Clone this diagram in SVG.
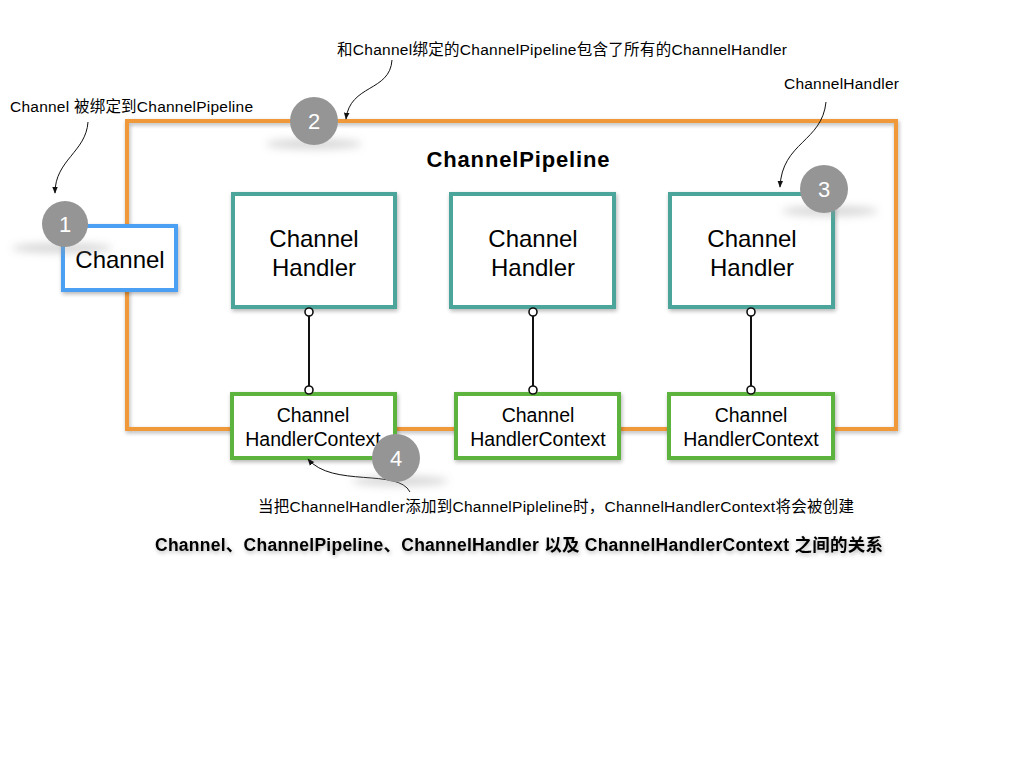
<svg xmlns="http://www.w3.org/2000/svg" width="1024" height="768" viewBox="0 0 1024 768">
<defs>
<style>
text{font-family:"Liberation Sans","Noto Sans CJK SC",sans-serif;fill:#000}
.pipe{fill:none;stroke:#F0993B;stroke-width:4}
.ch{fill:#fff;stroke:#4BA0F3;stroke-width:4}
.hd{fill:#fff;stroke:#4CA59B;stroke-width:4}
.cx{fill:#fff;stroke:#5CB33E;stroke-width:4}
.big{font-size:24px;text-anchor:middle}
.mid{font-size:19.5px;text-anchor:middle}
.note{font-size:15.5px}
.num{fill:#959595}
.numt{font-size:22px;fill:#fff;text-anchor:middle}
.link{stroke:#111;stroke-width:2;fill:none}
.dot{fill:#fff;stroke:#111;stroke-width:1.6}
.curve{fill:none;stroke:#111;stroke-width:1}
</style>
<filter id="sh" x="-10%" y="-10%" width="130%" height="130%">
<feGaussianBlur in="SourceAlpha" stdDeviation="2"/>
<feOffset dx="1" dy="2" result="b"/>
<feComponentTransfer><feFuncA type="linear" slope="0.3"/></feComponentTransfer>
<feMerge><feMergeNode/><feMergeNode in="SourceGraphic"/></feMerge>
</filter>
<filter id="blur" x="-50%" y="-200%" width="200%" height="500%">
<feGaussianBlur stdDeviation="4"/>
</filter>
<marker id="ah" viewBox="0 0 10 10" refX="9" refY="5" markerWidth="7" markerHeight="7" orient="auto-start-reverse">
<path d="M0,1 L10,5 L0,9 Z" fill="#111"/>
</marker>
</defs>
<rect width="1024" height="768" fill="#fff"/>

<g id="pipeline">
<rect x="127" y="121" width="769" height="308" class="pipe" filter="url(#sh)"/>
<text x="518" y="167" font-size="22" font-weight="bold" text-anchor="middle" textLength="183">ChannelPipeline</text>
</g>

<g id="channel">
<rect x="63" y="226" width="113" height="64" class="ch" filter="url(#sh)"/>
<text x="120" y="268" class="big">Channel</text>
</g>

<g id="handler1">
<rect x="233" y="194" width="162" height="113" class="hd" filter="url(#sh)"/>
<text x="314" y="247" class="big">Channel</text>
<text x="314" y="276" class="big">Handler</text>
</g>
<g id="handler2">
<rect x="451" y="194" width="163" height="113" class="hd" filter="url(#sh)"/>
<text x="533" y="247" class="big">Channel</text>
<text x="533" y="276" class="big">Handler</text>
</g>
<g id="handler3">
<rect x="670" y="194" width="163" height="113" class="hd" filter="url(#sh)"/>
<text x="752" y="247" class="big">Channel</text>
<text x="752" y="276" class="big">Handler</text>
</g>

<g id="context1">
<rect x="232" y="394" width="163" height="64" class="cx" filter="url(#sh)"/>
<text x="313" y="422" class="mid">Channel</text>
<text x="313" y="446" class="mid">HandlerContext</text>
</g>
<g id="context2">
<rect x="456" y="394" width="163" height="64" class="cx" filter="url(#sh)"/>
<text x="538" y="422" class="mid">Channel</text>
<text x="538" y="446" class="mid">HandlerContext</text>
</g>
<g id="context3">
<rect x="669" y="394" width="164" height="64" class="cx" filter="url(#sh)"/>
<text x="751" y="422" class="mid">Channel</text>
<text x="751" y="446" class="mid">HandlerContext</text>
</g>

<g id="connectors">
<line x1="309" y1="312" x2="309" y2="390" class="link"/>
<circle cx="309" cy="312" r="4" class="dot"/>
<circle cx="309" cy="390" r="4" class="dot"/>
<line x1="533" y1="312" x2="533" y2="390" class="link"/>
<circle cx="533" cy="312" r="4" class="dot"/>
<circle cx="533" cy="390" r="4" class="dot"/>
<line x1="751" y1="312" x2="751" y2="390" class="link"/>
<circle cx="751" cy="312" r="4" class="dot"/>
<circle cx="751" cy="390" r="4" class="dot"/>
<path d="M88 122 C86 152 55 160 55 193" class="curve" marker-end="url(#ah)"/>
<path d="M392 60 C390 92 350 84 346 119" class="curve" marker-end="url(#ah)"/>
<path d="M826 102 C822 142 782 142 780 187" class="curve" marker-end="url(#ah)"/>
<path d="M410 492 C398 468 332 488 308 459" class="curve" marker-end="url(#ah)"/>
</g>

<g id="badge1">
<ellipse cx="62" cy="248" rx="50" ry="5" fill="#999" opacity="0.4" filter="url(#blur)"/>
<circle cx="65" cy="224" r="23" class="num"/>
<text x="65" y="232" class="numt">1</text>
</g>
<g id="badge2">
<ellipse cx="314" cy="144" rx="48" ry="5" fill="#999" opacity="0.4" filter="url(#blur)"/>
<circle cx="314" cy="121" r="24" class="num"/>
<text x="314" y="129" class="numt">2</text>
</g>
<g id="badge3">
<ellipse cx="830" cy="211" rx="48" ry="5" fill="#999" opacity="0.4" filter="url(#blur)"/>
<circle cx="824" cy="189" r="24" class="num"/>
<text x="824" y="197" class="numt">3</text>
</g>
<g id="badge4">
<ellipse cx="400" cy="481" rx="48" ry="5" fill="#999" opacity="0.4" filter="url(#blur)"/>
<circle cx="396" cy="458" r="24" class="num"/>
<text x="396" y="466" class="numt">4</text>
</g>

<g id="notes">
<text x="10" y="112" class="note" textLength="243">Channel 被绑定到ChannelPipeline</text>
<text x="337" y="55" class="note" textLength="450">和Channel绑定的ChannelPipeline包含了所有的ChannelHandler</text>
<text x="784" y="89" class="note" textLength="115">ChannelHandler</text>
<text x="258" y="512" class="note" textLength="596">当把ChannelHandler添加到ChannelPipleline时，ChannelHandlerContext将会被创建</text>
<text x="155" y="551" font-size="17.5" font-weight="bold" textLength="728" filter="url(#sh)">Channel、ChannelPipeline、ChannelHandler 以及 ChannelHandlerContext 之间的关系</text>
</g>
</svg>
